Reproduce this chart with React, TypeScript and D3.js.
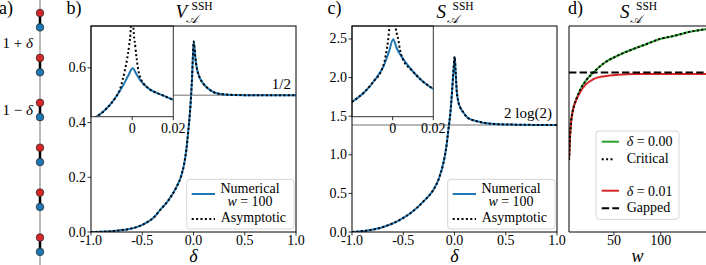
import * as d3 from "d3";

// ---------- panel a: SSH chain, 6 unit cells ----------
const chainCells = [0, 1, 2, 3, 4, 5];
const blueOffset = 0.32; // blue site inside a cell, in lattice units

// ---------- panel b: V_A^SSH vs delta ----------
const deltaB = [-1.0, -0.9, -0.8, -0.72, -0.63, -0.554, -0.45, -0.38, -0.327, -0.25, -0.164, -0.12, -0.09, -0.07, -0.05, -0.036, -0.024, -0.014, -0.006, 0.002, 0.008, 0.016, 0.03, 0.045, 0.063, 0.09, 0.128, 0.17, 0.226, 0.3, 0.4, 0.6, 0.8, 1.0];
const numB = [0.0, 0.001, 0.003, 0.006, 0.011, 0.018, 0.036, 0.056, 0.08, 0.113, 0.166, 0.205, 0.251, 0.3, 0.373, 0.43, 0.495, 0.565, 0.64, 0.696, 0.68, 0.645, 0.604, 0.58, 0.562, 0.545, 0.529, 0.517, 0.507, 0.503, 0.501, 0.5, 0.5, 0.5];
const asymB = [...numB];
const insetDeltaB = [-0.02, -0.0173, -0.0132, -0.0083, -0.0043, -0.002, 0.0003, 0.002, 0.0038, 0.0079, 0.0144, 0.02];
const insetNumB = [0.41, 0.4216, 0.446, 0.489, 0.537, 0.57, 0.599, 0.578, 0.556, 0.525, 0.501, 0.483];
const insetAsymDeltaB = [-0.02, -0.0173, -0.0132, -0.0083, -0.006, -0.0045, -0.0035, -0.0025, -0.0015, -0.0006, -0.0002, 0.0002, 0.0006, 0.0015, 0.003, 0.0045, 0.0054, 0.0079, 0.0144, 0.02];
const insetAsymB = [0.41, 0.4216, 0.446, 0.489, 0.52, 0.56, 0.592, 0.63, 0.68, 0.753, 0.85, 0.85, 0.753, 0.68, 0.592, 0.555, 0.544, 0.525, 0.501, 0.483];
const refB = 0.5;
const bYTicks = [0, 0.2, 0.4, 0.6];
const bYLabels = ["0.0", "0.2", "0.4", "0.6"];

// ---------- panel c: S_A^SSH vs delta ----------
const deltaC = [-1.0, -0.85, -0.695, -0.55, -0.434, -0.3, -0.207, -0.15, -0.109, -0.08, -0.06, -0.04, -0.025, -0.012, 0.002, 0.01, 0.021, 0.035, 0.054, 0.086, 0.12, 0.2, 0.28, 0.4, 0.6, 0.8, 1.0];
const numC = [0.0, 0.02, 0.065, 0.145, 0.24, 0.4, 0.544, 0.7, 0.89, 1.1, 1.32, 1.55, 1.8, 2.05, 2.27, 2.1, 1.84, 1.7, 1.62, 1.55, 1.49, 1.44, 1.416, 1.398, 1.39, 1.387, 1.386];
const asymC = [...numC];
const insetDeltaC = [-0.02, -0.0137, -0.0088, -0.0046, -0.002, 0.0003, 0.002, 0.0044, 0.0093, 0.015, 0.02];
const insetNumC = [1.685, 1.817, 1.969, 2.141, 2.32, 2.496, 2.38, 2.271, 2.098, 1.947, 1.852];
const insetAsymDeltaC = [-0.02, -0.0137, -0.0088, -0.0055, -0.004, -0.003, -0.0022, -0.0017, -0.001, -0.0003, 0.0003, 0.001, 0.0015, 0.0028, 0.0036, 0.005, 0.0093, 0.015, 0.02];
const insetAsymC = [1.685, 1.817, 1.969, 2.09, 2.21, 2.35, 2.49, 2.62, 2.75, 2.95, 2.95, 2.75, 2.64, 2.49, 2.36, 2.24, 2.098, 1.947, 1.852];
const refC = 2 * Math.log(2);
const cYTicks = [0, 0.5, 1, 1.5, 2, 2.5];
const cYLabels = ["0.0", "0.5", "1.0", "1.5", "2.0", "2.5"];

// shared delta axis ticks
const deltaTicks = [-1, -0.5, 0, 0.5, 1];
const deltaLabels = ["-1.0", "-0.5", "0.0", "0.5", "1.0"];
const insetTicks = [0, 0.02];
const insetLabels = ["0", "0.02"];

// ---------- panel d: S_A^SSH vs w ----------
const wD = [2, 3, 4, 6, 8, 10, 14, 20, 28, 40, 55, 70, 85, 100, 115, 130, 150];
const critD = [0.96, 1.26, 1.44, 1.62, 1.71, 1.78, 1.9, 2.02, 2.13, 2.26, 2.36, 2.44, 2.51, 2.58, 2.62, 2.67, 2.71];
const gapD = [0.96, 1.26, 1.44, 1.61, 1.71, 1.77, 1.87, 1.97, 2.04, 2.08, 2.1, 2.11, 2.11, 2.11, 2.11, 2.11, 2.11];
const gapAsym = 2.13;
const dXTicks = [50, 100];
const dXLabels = ["50", "100"];

const FONT = "Liberation Serif, DejaVu Serif, serif";
const BLUE = "#1f77b4";
const RED = "#d62728";
const GREEN = "#2ca02c";
const DOT = "2,2.4";
const DASH = "7.4,3.2";
const TOP = 26;
const BOTTOM = 232;
const INSET_BOTTOM = 116.7;

const mkLine = (xs: number[], ys: number[], sx: (v: number) => number, sy: (v: number) => number) =>
  d3
    .line<number>()
    .x((_, i) => sx(xs[i]))
    .y((d) => sy(d))
    .curve(d3.curveMonotoneX)(ys) ?? "";

function Title({ x, sym }: { x: number; sym: string }) {
  return (
    <g>
      <text x={x} y={18} fontSize={19} fontStyle="italic">{sym}</text>
      <text x={x + 16} y={9.5} fontSize={11.5}>SSH</text>
      <text x={x + 10} y={22.5} fontSize={12} fontStyle="italic" style={{ fontFamily: "DejaVu Serif, serif" }}>𝒜</text>
    </g>
  );
}

interface DeltaProps {
  id: string;
  left: number;
  right: number;
  insetRight: number;
  yMax: number;
  yTicks: number[];
  yLabels: string[];
  delta: number[];
  num: number[];
  asym: number[];
  iDelta: number[];
  iNum: number[];
  iAsymDelta: number[];
  iAsym: number[];
  refVal: number;
  refLabel: string;
  label: string;
  sym: string;
}

function DeltaPanel(p: DeltaProps) {
  const x = d3.scaleLinear().domain([-1, 1]).range([p.left, p.right]);
  const y = d3.scaleLinear().domain([0, p.yMax]).range([BOTTOM, TOP]);
  const xi = d3.scaleLinear().domain([-0.02, 0.02]).range([p.left, p.insetRight]);
  const lx = p.left + 95.7;
  const ly = 179.3;
  return (
    <g>
      <defs>
        <clipPath id={`${p.id}-main`}>
          <rect x={p.left} y={TOP} width={p.right - p.left} height={BOTTOM - TOP} />
        </clipPath>
        <clipPath id={`${p.id}-inset`}>
          <rect x={p.left} y={TOP} width={p.insetRight - p.left} height={INSET_BOTTOM - TOP} />
        </clipPath>
      </defs>
      <g clipPath={`url(#${p.id}-main)`}>
        <line x1={p.left} x2={p.right} y1={y(p.refVal)} y2={y(p.refVal)} stroke="#a0a0a0" strokeWidth={1.6} />
        <path d={mkLine(p.delta, p.num, x, y)} fill="none" stroke={BLUE} strokeWidth={2} />
        <path d={mkLine(p.delta, p.asym, x, y)} fill="none" stroke="#000" strokeWidth={2} strokeDasharray={DOT} />
      </g>
      {/* inset */}
      <rect x={p.left} y={TOP} width={p.insetRight - p.left} height={INSET_BOTTOM - TOP} fill="#fff" />
      <g clipPath={`url(#${p.id}-inset)`}>
        <path d={mkLine(p.iDelta, p.iNum, xi, y)} fill="none" stroke={BLUE} strokeWidth={2} />
        <path d={mkLine(p.iAsymDelta, p.iAsym, xi, y)} fill="none" stroke="#000" strokeWidth={2} strokeDasharray={DOT} />
      </g>
      <rect x={p.left} y={TOP} width={p.insetRight - p.left} height={INSET_BOTTOM - TOP} fill="none" stroke="#333" strokeWidth={1} />
      {insetTicks.map((t, i) => (
        <g key={t}>
          <line x1={xi(t)} x2={xi(t)} y1={INSET_BOTTOM} y2={INSET_BOTTOM + 3.5} stroke="#000" strokeWidth={0.8} />
          <text x={xi(t)} y={INSET_BOTTOM + 16} fontSize={14} textAnchor="middle">{insetLabels[i]}</text>
        </g>
      ))}
      {/* spines */}
      <rect x={p.left} y={TOP} width={p.right - p.left} height={BOTTOM - TOP} fill="none" stroke="#000" strokeWidth={1} />
      {deltaTicks.map((t, i) => (
        <g key={t}>
          <line x1={x(t)} x2={x(t)} y1={BOTTOM} y2={BOTTOM + 3.5} stroke="#000" strokeWidth={0.8} />
          <text x={x(t)} y={BOTTOM + 13} fontSize={14} textAnchor="middle">{deltaLabels[i]}</text>
        </g>
      ))}
      {p.yTicks.map((t, i) => (
        <g key={t}>
          <line x1={p.left - 3.5} x2={p.left} y1={y(t)} y2={y(t)} stroke="#000" strokeWidth={0.8} />
          <text x={p.left - 5} y={y(t) + 4.5} fontSize={14} textAnchor="end">{p.yLabels[i]}</text>
        </g>
      ))}
      <text x={p.right - 5} y={y(p.refVal) - 6.5} fontSize={15} textAnchor="end">{p.refLabel}</text>
      {/* legend */}
      <rect x={lx} y={ly} width={107.3} height={49.7} rx={3} fill="#fff" fillOpacity={0.8} stroke="#ccc" strokeWidth={0.8} />
      <line x1={lx + 5} x2={lx + 28.3} y1={ly + 14.7} y2={ly + 14.7} stroke={BLUE} strokeWidth={2} />
      <text x={lx + 63.3} y={ly + 13.7} fontSize={14} textAnchor="middle">Numerical</text>
      <text x={lx + 63.3} y={ly + 26.7} fontSize={14} textAnchor="middle">
        <tspan fontStyle="italic">w</tspan> = 100
      </text>
      <line x1={lx + 5} x2={lx + 28.3} y1={ly + 39.7} y2={ly + 39.7} stroke="#000" strokeWidth={2} strokeDasharray={DOT} />
      <text x={lx + 34} y={ly + 43} fontSize={14}>Asymptotic</text>
      {/* labels */}
      <text x={(p.left + p.right) / 2} y={262} fontSize={18} fontStyle="italic" textAnchor="middle">δ</text>
      <text x={p.left - 24.5} y={14} fontSize={18}>{p.label}</text>
      <Title x={(p.left + p.right) / 2 - 18} sym={p.sym} />
    </g>
  );
}

function ChainPanel() {
  const y = d3.scaleLinear().domain([0, 6]).range([13, 13 + 6 * 44.9]);
  const cx = 40;
  return (
    <g>
      <line x1={cx} x2={cx} y1={0} y2={265} stroke="#a0a0a0" strokeWidth={1.5} />
      {chainCells.map((c) => (
        <line key={c} x1={cx} x2={cx} y1={y(c)} y2={y(c + blueOffset)} stroke="#000" strokeWidth={2.5} />
      ))}
      {chainCells.map((c) => (
        <g key={c}>
          <circle cx={cx} cy={y(c)} r={3.8} fill={RED} stroke="#222" strokeWidth={0.7} />
          <circle cx={cx} cy={y(c + blueOffset)} r={3.8} fill={BLUE} stroke="#222" strokeWidth={0.7} />
        </g>
      ))}
      <text x={33} y={48} fontSize={15} textAnchor="end">
        1 + <tspan fontStyle="italic">δ</tspan>
      </text>
      <text x={33} y={115} fontSize={15} textAnchor="end">
        1 − <tspan fontStyle="italic">δ</tspan>
      </text>
      <text x={-1} y={14} fontSize={18}>a)</text>
    </g>
  );
}

function WPanel() {
  const left = 569;
  const x = d3.scaleLinear().domain([2, 150]).range([left, 707.6]);
  const y = d3.scaleLinear().domain([0, 2.75]).range([BOTTOM, TOP]);
  const lx = 596;
  const ly = 131;
  return (
    <g>
      <defs>
        <clipPath id="d-main">
          <rect x={left} y={TOP} width={140} height={BOTTOM - TOP} />
        </clipPath>
      </defs>
      <g clipPath="url(#d-main)">
        <path d={mkLine(wD, critD, x, y)} fill="none" stroke={GREEN} strokeWidth={2} />
        <path d={mkLine(wD, gapD, x, y)} fill="none" stroke={RED} strokeWidth={2} />
        <path d={mkLine(wD, critD, x, y)} fill="none" stroke="#000" strokeWidth={2} strokeDasharray={DOT} />
        <line x1={left} x2={710} y1={y(gapAsym)} y2={y(gapAsym)} stroke="#000" strokeWidth={2} strokeDasharray={DASH} />
      </g>
      <path d={`M${left},${BOTTOM}V${TOP}H710`} fill="none" stroke="#000" strokeWidth={1} />
      <line x1={left} x2={710} y1={BOTTOM} y2={BOTTOM} stroke="#000" strokeWidth={1} />
      {dXTicks.map((t, i) => (
        <g key={t}>
          <line x1={x(t)} x2={x(t)} y1={BOTTOM} y2={BOTTOM + 3.5} stroke="#000" strokeWidth={0.8} />
          <text x={x(t)} y={BOTTOM + 13} fontSize={14} textAnchor="middle">{dXLabels[i]}</text>
        </g>
      ))}
      <rect x={lx} y={ly} width={83} height={88.3} rx={3} fill="#fff" fillOpacity={0.8} stroke="#ccc" strokeWidth={0.8} />
      <line x1={lx + 5.7} x2={lx + 23} y1={ly + 10.7} y2={ly + 10.7} stroke={GREEN} strokeWidth={2} />
      <text x={lx + 30.7} y={ly + 15} fontSize={14}>
        <tspan fontStyle="italic">δ</tspan> = 0.00
      </text>
      <line x1={lx + 5.7} x2={lx + 17} y1={ly + 28.3} y2={ly + 28.3} stroke="#000" strokeWidth={2} strokeDasharray={DOT} />
      <text x={lx + 30.7} y={ly + 32} fontSize={14}>Critical</text>
      <line x1={lx + 5.7} x2={lx + 23} y1={ly + 59.7} y2={ly + 59.7} stroke={RED} strokeWidth={2} />
      <text x={lx + 30.7} y={ly + 64.5} fontSize={14}>
        <tspan fontStyle="italic">δ</tspan> = 0.01
      </text>
      <line x1={lx + 5.7} x2={lx + 23} y1={ly + 77.3} y2={ly + 77.3} stroke="#000" strokeWidth={2} strokeDasharray={DASH} />
      <text x={lx + 30.7} y={ly + 81} fontSize={14}>Gapped</text>
      <text x={637.5} y={262} fontSize={18} fontStyle="italic" textAnchor="middle">w</text>
      <text x={568} y={14} fontSize={18}>d)</text>
      <Title x={620} sym="S" />
    </g>
  );
}

export default function App() {
  return (
    <svg
      width={706}
      height={265}
      style={{ position: "absolute", left: 0, top: 0, background: "#fff", fontFamily: FONT }}
    >
      <ChainPanel />
      <DeltaPanel
        id="b" left={91} right={296} insetRight={173.3} yMax={0.753}
        yTicks={bYTicks} yLabels={bYLabels}
        delta={deltaB} num={numB} asym={asymB}
        iDelta={insetDeltaB} iNum={insetNumB} iAsymDelta={insetAsymDeltaB} iAsym={insetAsymB}
        refVal={refB} refLabel="1/2" label="b)" sym="V"
      />
      <DeltaPanel
        id="c" left={352} right={557} insetRight={433.3} yMax={2.668}
        yTicks={cYTicks} yLabels={cYLabels}
        delta={deltaC} num={numC} asym={asymC}
        iDelta={insetDeltaC} iNum={insetNumC} iAsymDelta={insetAsymDeltaC} iAsym={insetAsymC}
        refVal={refC} refLabel="2 log(2)" label="c)" sym="S"
      />
      <WPanel />
    </svg>
  );
}
